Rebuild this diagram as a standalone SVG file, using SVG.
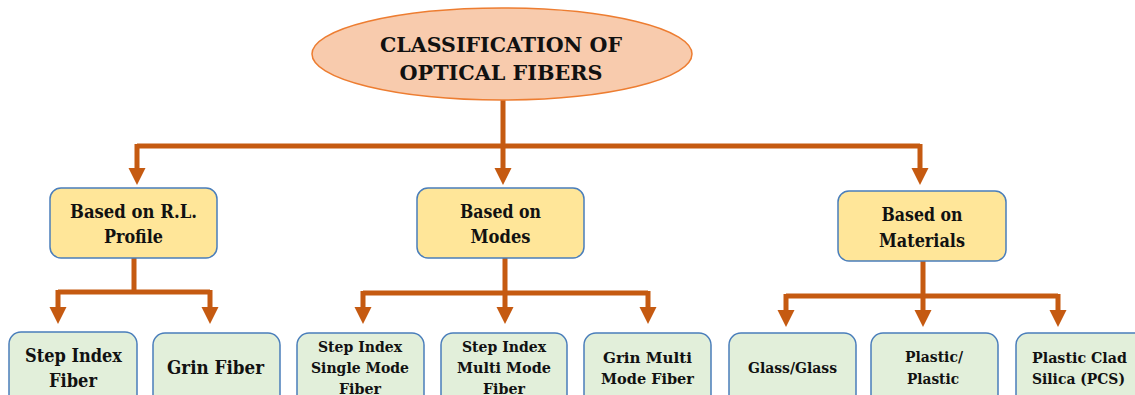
<svg xmlns="http://www.w3.org/2000/svg" width="1135" height="395" viewBox="0 0 1135 395">
<style>
text{font-family:"DejaVu Serif",serif;font-weight:bold;fill:#111;text-anchor:middle}
.l2{fill:#FFE699;stroke:#4A7EBB;stroke-width:1.5}
.l3{fill:#E2EFDA;stroke:#4A7EBB;stroke-width:1.5}
.ln{fill:none;stroke:#C55A11;stroke-width:5}
.hd{fill:#C55A11}
.t1{font-size:20.5px}
.t2{font-size:18px}
.t4{font-size:15.5px}
</style>
<rect width="1135" height="395" fill="#fff"/>
<g id="connectors">
<path class="ln" d="M503 100V146M137 146H920M137 144V170M503 146V170M920 144V170"/>
<path class="hd" d="M128.5 168H145.5L137 185ZM494.5 168H511.5L503 185ZM911.5 168H928.5L920 185Z"/>
<path class="ln" d="M134 258V292M58 292H210M58 290V309M210 290V309"/>
<path class="hd" d="M49.5 307H66.5L58 324ZM201.5 307H218.5L210 324Z"/>
<path class="ln" d="M505 258V293M363 293H648M363 291V309M505 293V309M648 291V309"/>
<path class="hd" d="M354.5 307H371.5L363 324ZM496.5 307H513.5L505 324ZM639.5 307H656.5L648 324Z"/>
<path class="ln" d="M923 261V296M786 296H1058M786 294V312M923 296V312M1058 294V312"/>
<path class="hd" d="M777.5 310H794.5L786 327ZM914.5 310H931.5L923 327ZM1049.5 310H1066.5L1058 327Z"/>
</g>
<g id="root">
<ellipse cx="502" cy="54" rx="190" ry="46" fill="#F8CBAD" stroke="#ED7D31" stroke-width="1.5"/>
<text class="t1" x="501" y="52" textLength="242" lengthAdjust="spacingAndGlyphs">CLASSIFICATION OF</text>
<text class="t1" x="501" y="80" textLength="203" lengthAdjust="spacingAndGlyphs">OPTICAL FIBERS</text>
</g>
<g id="rl-profile">
<rect class="l2" x="50" y="188" width="167" height="70" rx="11"/>
<text class="t2" x="133.5" y="218" textLength="127" lengthAdjust="spacingAndGlyphs">Based on R.L.</text>
<text class="t2" x="133.5" y="243" textLength="59" lengthAdjust="spacingAndGlyphs">Profile</text>
</g>
<g id="modes">
<rect class="l2" x="417" y="188" width="167" height="70" rx="11"/>
<text class="t2" x="500.5" y="218" textLength="81" lengthAdjust="spacingAndGlyphs">Based on</text>
<text class="t2" x="500.5" y="243" textLength="60" lengthAdjust="spacingAndGlyphs">Modes</text>
</g>
<g id="materials">
<rect class="l2" x="838" y="191" width="168" height="70" rx="11"/>
<text class="t2" x="922" y="221" textLength="81" lengthAdjust="spacingAndGlyphs">Based on</text>
<text class="t2" x="922" y="247" textLength="86" lengthAdjust="spacingAndGlyphs">Materials</text>
</g>
<g id="step-index-fiber">
<rect class="l3" x="9" y="332" width="128" height="80" rx="12"/>
<text class="t2" x="73.5" y="362" textLength="97" lengthAdjust="spacingAndGlyphs">Step Index</text>
<text class="t2" x="73" y="387" textLength="48" lengthAdjust="spacingAndGlyphs">Fiber</text>
</g>
<g id="grin-fiber">
<rect class="l3" x="153" y="333" width="127" height="80" rx="12"/>
<text class="t2" x="215.5" y="374" textLength="97" lengthAdjust="spacingAndGlyphs">Grin Fiber</text>
</g>
<g id="si-single-mode">
<rect class="l3" x="297" y="333" width="127" height="80" rx="12"/>
<text class="t4" x="360" y="352" textLength="84" lengthAdjust="spacingAndGlyphs">Step Index</text>
<text class="t4" x="360" y="373" textLength="98" lengthAdjust="spacingAndGlyphs">Single Mode</text>
<text class="t4" x="360" y="394" textLength="42" lengthAdjust="spacingAndGlyphs">Fiber</text>
</g>
<g id="si-multi-mode">
<rect class="l3" x="441" y="333" width="126" height="80" rx="12"/>
<text class="t4" x="504" y="352" textLength="84" lengthAdjust="spacingAndGlyphs">Step Index</text>
<text class="t4" x="504" y="373" textLength="94" lengthAdjust="spacingAndGlyphs">Multi Mode</text>
<text class="t4" x="504" y="394" textLength="42" lengthAdjust="spacingAndGlyphs">Fiber</text>
</g>
<g id="grin-multi-mode">
<rect class="l3" x="584" y="333" width="127" height="80" rx="12"/>
<text class="t4" x="647.5" y="363" textLength="89" lengthAdjust="spacingAndGlyphs">Grin Multi</text>
<text class="t4" x="647.5" y="384" textLength="93" lengthAdjust="spacingAndGlyphs">Mode Fiber</text>
</g>
<g id="glass-glass">
<rect class="l3" x="729" y="333" width="127" height="80" rx="12"/>
<text class="t4" x="792.5" y="373" textLength="89" lengthAdjust="spacingAndGlyphs">Glass/Glass</text>
</g>
<g id="plastic-plastic">
<rect class="l3" x="871" y="333" width="127" height="80" rx="12"/>
<text class="t4" x="934" y="362" textLength="58" lengthAdjust="spacingAndGlyphs">Plastic/</text>
<text class="t4" x="933" y="384" textLength="52" lengthAdjust="spacingAndGlyphs">Plastic</text>
</g>
<g id="pcs">
<rect class="l3" x="1016" y="333" width="130" height="80" rx="12"/>
<text class="t4" x="1079.5" y="363" textLength="95" lengthAdjust="spacingAndGlyphs">Plastic Clad</text>
<text class="t4" x="1078.5" y="384" textLength="93" lengthAdjust="spacingAndGlyphs">Silica (PCS)</text>
</g>
</svg>
